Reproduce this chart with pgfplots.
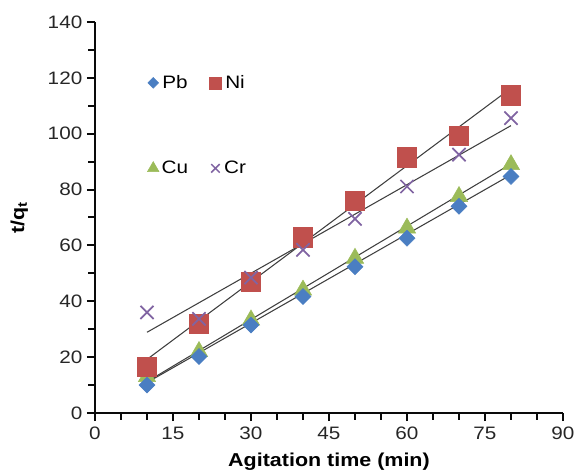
\documentclass[border=0pt]{standalone}
\usepackage{fontspec}
\setmainfont{Liberation Sans}[FakeStretch=1.15]
\usepackage{pgfplots}
\pgfplotsset{compat=1.18}

\definecolor{cPb}{HTML}{4A7EC2}
\definecolor{cNi}{HTML}{C0504D}
\definecolor{cCu}{HTML}{9BBB59}
\definecolor{cCr}{HTML}{8064A2}
\definecolor{axc}{RGB}{10,10,10}

\begin{document}
\begin{tikzpicture}
\begin{axis}[
    name=ax,
    scale only axis,
    width=351pt, height=293.25pt,
    xmin=0, xmax=90, ymin=0, ymax=140,
    xtick={0,15,...,90}, ytick={0,20,...,140},
    minor x tick num=2, minor y tick num=1,
    axis x line*=bottom, axis y line*=left,
    axis line style={draw=axc, line width=1.8pt, -},
    tick align=outside,
    major tick length=6pt, minor tick length=5pt,
    major tick style={draw=axc, line width=1.5pt},
    minor tick style={draw=axc, line width=1.5pt},
    tick label style={font=\fontsize{13.5}{15}\selectfont, text=black!85},
    xticklabel style={yshift=-1pt},
    /pgf/number format/assume math mode=true,
    xlabel={\textbf{Agitation time (min)}},
    ylabel={\textbf{t/q\textsubscript{t}}},
    label style={font=\fontsize{14}{16}\selectfont},
    xlabel style={yshift=-3pt},
    ylabel style={yshift=8pt},
    legend columns=2,
    legend image code/.code={\draw[#1] plot coordinates {(0cm,0cm)};},
    legend style={draw=none, fill=none, at={(0.103,0.878)}, anchor=north west,
        font=\fontsize{13.5}{15}\selectfont,
        row sep=49pt,
        /tikz/every even column/.append style={column sep=14pt}},
]
% data points
\addplot[forget plot, only marks, mark=triangle*, mark size=7.5pt, color=cCu]
    coordinates {(10,13) (20,22) (30,33.3) (40,44) (50,55.4) (60,66.2) (70,77.5) (80,88.9)};
\addplot[forget plot, only marks, mark=diamond*, mark size=6pt, color=cPb, mark options={xscale=1.33}]
    coordinates {(10,10) (20,20.2) (30,31.5) (40,41.7) (50,52.4) (60,62.6) (70,74) (80,84.7)};
\addplot[forget plot, only marks, mark=square*, mark size=7.3pt, color=cNi]
    coordinates {(10,16.6) (20,31.9) (30,47) (40,63) (50,76) (60,91.6) (70,99.3) (80,113.7)};
\addplot[forget plot, only marks, mark=x, mark size=7pt, color=cCr, mark options={line width=1.3pt}]
    coordinates {(10,36) (20,33.7) (30,48.5) (40,58.4) (50,69.5) (60,81.1) (70,92.5) (80,105.6)};
% trend lines
\addplot[forget plot, black!75, line width=0.8pt] coordinates {(10,10.9) (80,85.3)};
\addplot[forget plot, black!75, line width=0.8pt] coordinates {(10,11.2) (80,89.2)};
\addplot[forget plot, black!75, line width=0.8pt] coordinates {(10,19.2) (80,116.3)};
\addplot[forget plot, black!75, line width=0.8pt] coordinates {(10,28.9) (80,102.9)};
% legend
\addlegendimage{draw=none, mark=diamond*, mark size=4pt, color=cPb, mark options={xscale=1.33}}
\addlegendentry{Pb}
\addlegendimage{draw=none, mark=square*, mark size=4.5pt, color=cNi}
\addlegendentry{Ni}
\addlegendimage{draw=none, mark=triangle*, mark size=5pt, color=cCu}
\addlegendentry{Cu}
\addlegendimage{draw=none, mark=x, mark size=4.5pt, color=cCr, mark options={line width=1.1pt}}
\addlegendentry{Cr}
\end{axis}
\pgfresetboundingbox
\path[use as bounding box] ([shift={(-71.25pt,-46.5pt)}]ax.south west) rectangle ([shift={(9.75pt,16.5pt)}]ax.north east);
\end{tikzpicture}
\end{document}
